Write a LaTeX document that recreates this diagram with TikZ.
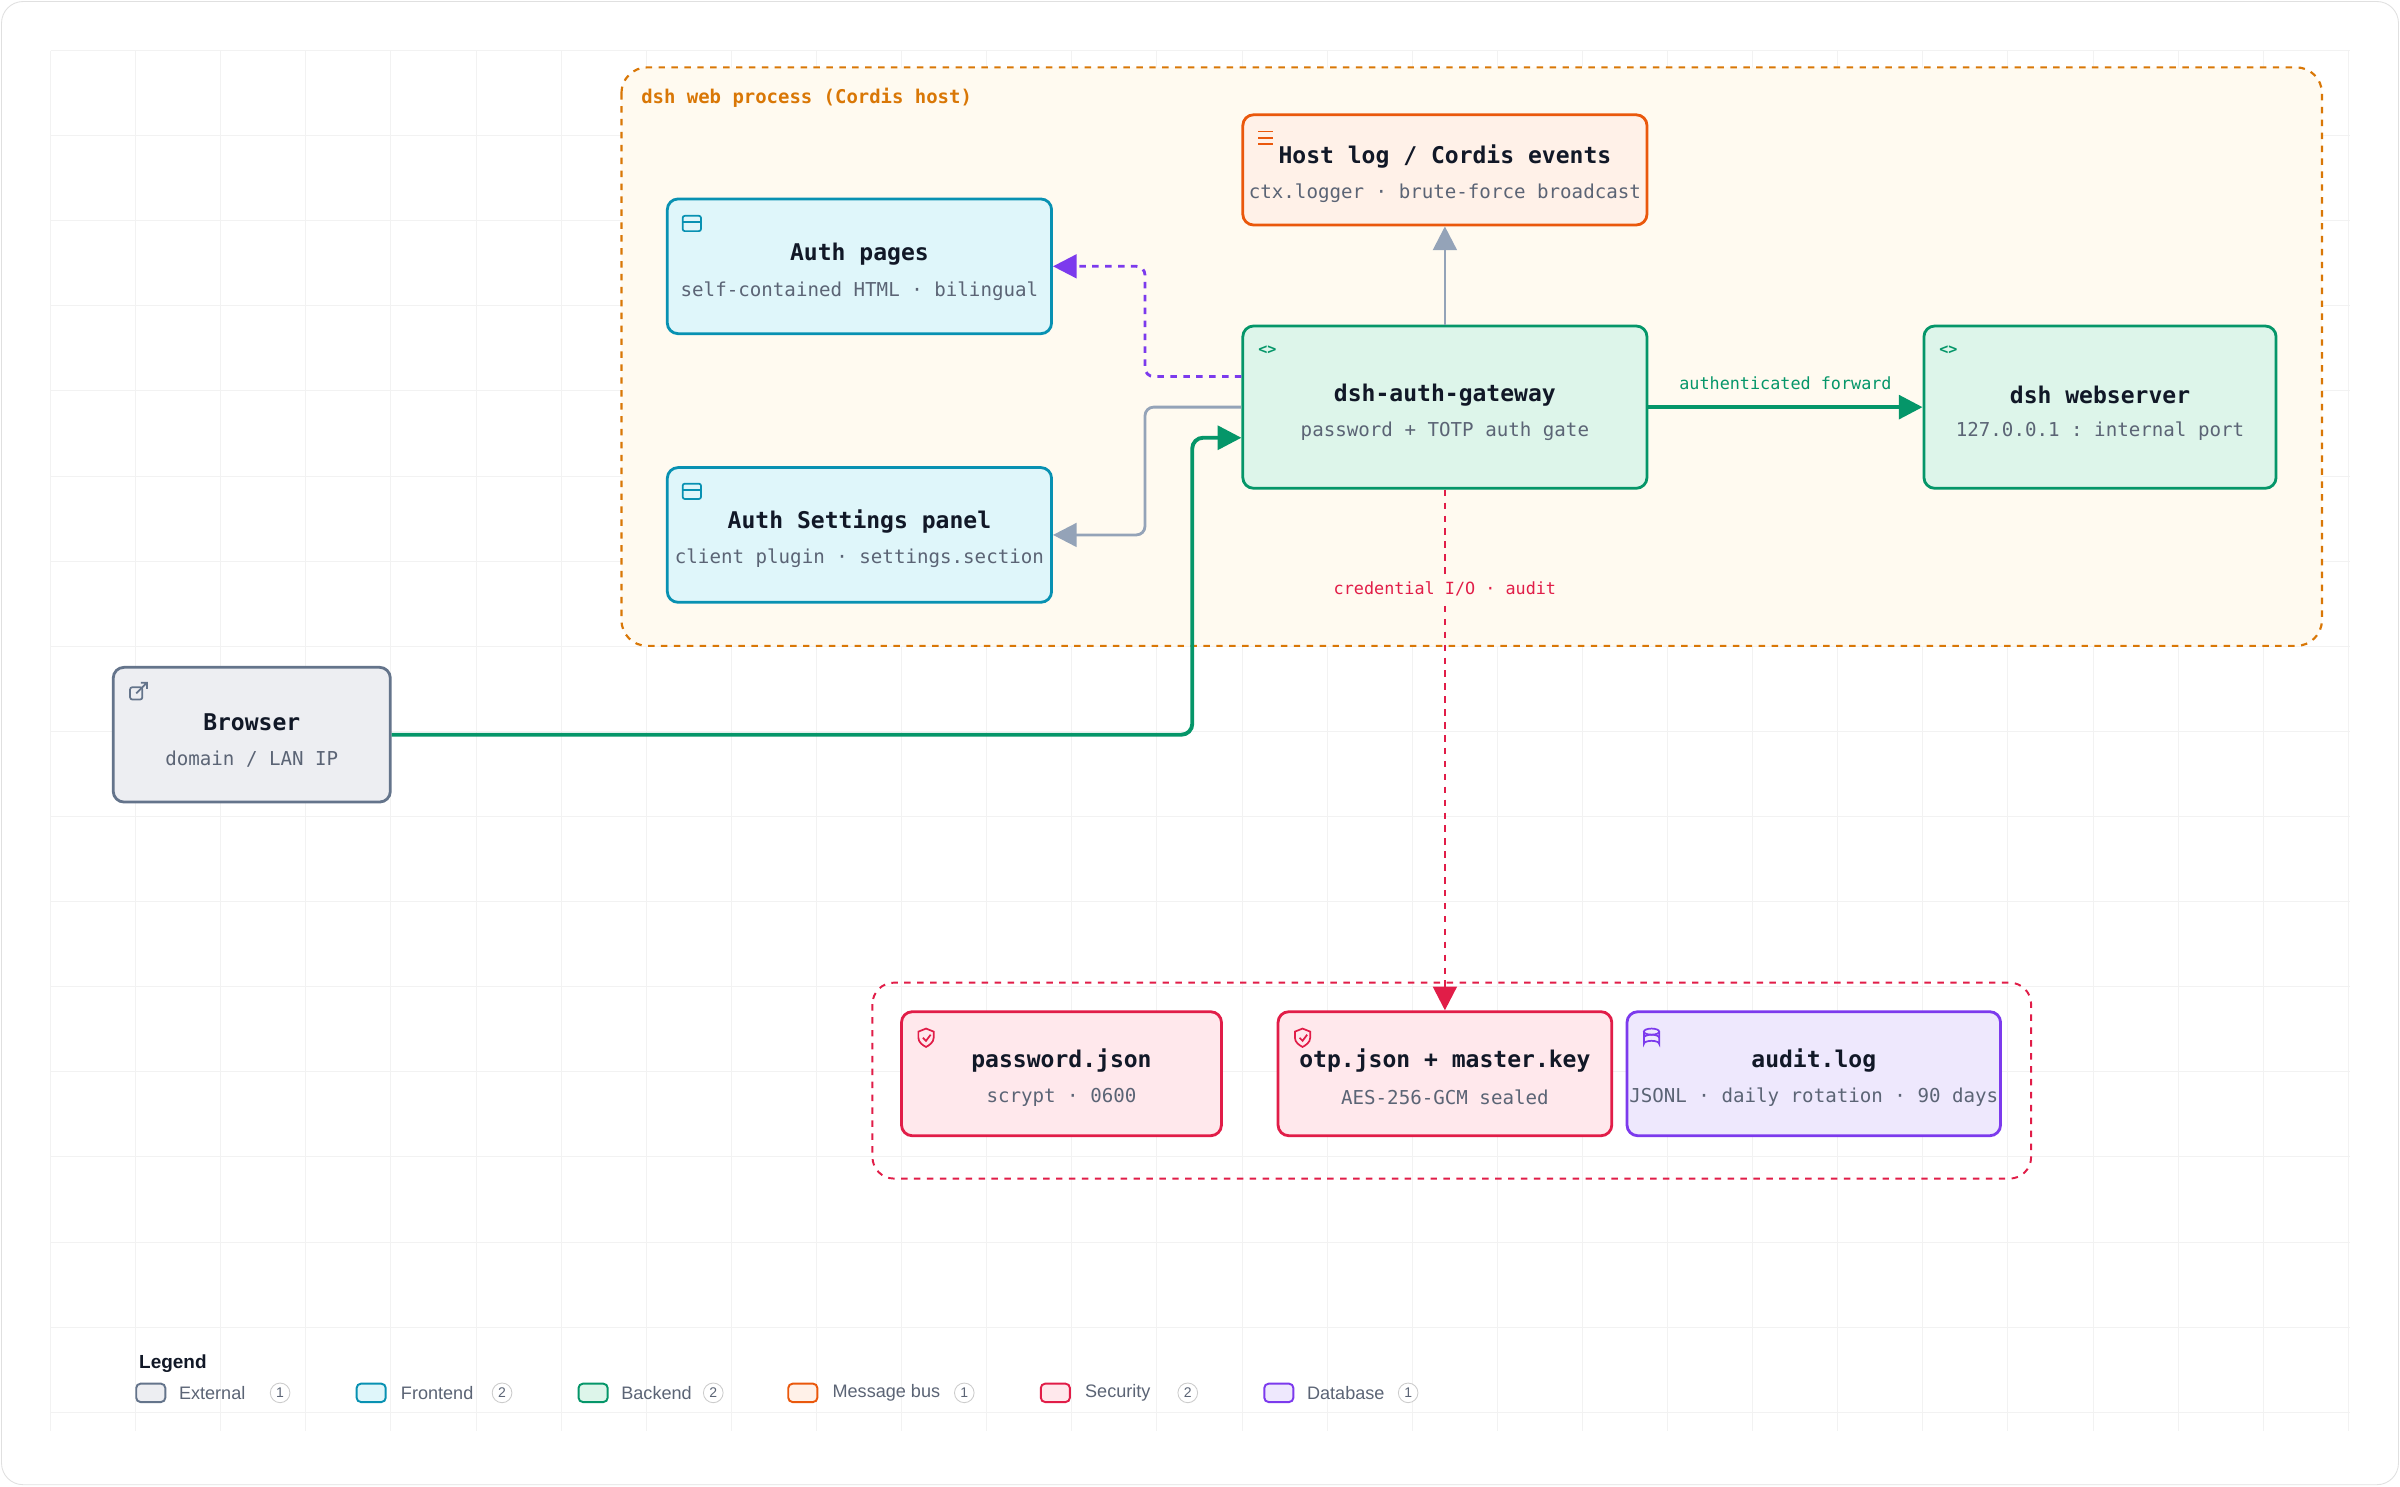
\documentclass[tikz,border=0pt]{standalone}
\usepackage{fontspec}
\setmonofont{DejaVu Sans Mono}
\setsansfont{Liberation Sans}
\usetikzlibrary{arrows.meta,positioning}
\definecolor{extS}{HTML}{64748B}\definecolor{extF}{HTML}{EDEEF2}
\definecolor{feS}{HTML}{0891B2}\definecolor{feF}{HTML}{DFF6FA}
\definecolor{beS}{HTML}{059669}\definecolor{beF}{HTML}{DDF5EA}
\definecolor{msgS}{HTML}{EA580C}\definecolor{msgF}{HTML}{FFF1E8}
\definecolor{secS}{HTML}{E11D48}\definecolor{secF}{HTML}{FFE8EC}
\definecolor{dbS}{HTML}{7C3AED}\definecolor{dbF}{HTML}{EEE8FD}
\definecolor{hostS}{HTML}{D97706}\definecolor{hostF}{HTML}{FFFAF0}
\definecolor{subT}{HTML}{5B6475}\definecolor{titT}{HTML}{111827}
\definecolor{wire}{HTML}{94A3B8}
\tikzset{
  card/.style={draw, line width=1.3pt, rounded corners=5pt, inner sep=0pt},
  ttl/.style={font=\ttfamily\bfseries\fontsize{10.7}{12}\selectfont, text=titT},
  sub/.style={font=\ttfamily\fontsize{8.9}{10}\selectfont, text=subT},
  elabel/.style={font=\ttfamily\fontsize{7.8}{9}\selectfont},
  leg/.style={font=\sffamily\fontsize{8.4}{10}\selectfont, text=subT, anchor=west},
  cnt/.style={circle, draw=black!20, fill=white, inner sep=1.2pt, font=\sffamily\fontsize{6.5}{7}\selectfont, text=subT},
  tip/.style={-{Triangle[length=11pt,width=11pt]}}
}
\begin{document}
\begin{tikzpicture}[x=0.025cm, y=-0.025cm]
\useasboundingbox (0,0) rectangle (1568,971);
% frame and grid
\draw[black!12, fill=white, rounded corners=10pt] (1,1) rectangle (1567,970);
\foreach \i in {0,...,27} {
  \draw[black!5] (33+55.6*\i,33) -- (33+55.6*\i,935);
}
\foreach \j in {0,...,16} {
  \draw[black!5] (33,33+55.6*\j) -- (1535,33+55.6*\j);
}

% host process container
\draw[hostS, fill=hostF, dashed, line width=1pt, rounded corners=12pt] (406,44) rectangle (1517,422);
\node[anchor=west, text=hostS, font=\ttfamily\bfseries\fontsize{8.8}{10}\selectfont] at (414,64) {dsh web process (Cordis host)};

% security group
\draw[secS, dashed, line width=0.9pt, rounded corners=10pt] (570,642) rectangle (1327,770);

% cards
\node[card, draw=msgS, fill=msgF, minimum width=6.6cm, minimum height=1.8cm] (log) at (944,111) {};
\node[ttl] at (944,102) {Host log / Cordis events};
\node[sub] at (944,126) {ctx.logger · brute-force broadcast};

\node[card, draw=feS, fill=feF, minimum width=6.275cm, minimum height=2.2cm] (pages) at (561.5,174) {};
\node[ttl] at (561.5,166) {Auth pages};
\node[sub] at (561.5,190) {self-contained HTML · bilingual};

\node[card, draw=feS, fill=feF, minimum width=6.275cm, minimum height=2.2cm] (panel) at (561.5,349.5) {};
\node[ttl] at (561.5,341) {Auth Settings panel};
\node[sub] at (561.5,365) {client plugin · settings.section};

\node[card, draw=beS, fill=beF, minimum width=6.6cm, minimum height=2.65cm] (gw) at (944,266) {};
\node[ttl] at (944,258) {dsh-auth-gateway};
\node[sub] at (944,282) {password + TOTP auth gate};

\node[card, draw=beS, fill=beF, minimum width=5.75cm, minimum height=2.65cm] (web) at (1372,266) {};
\node[ttl] at (1372,258) {dsh webserver};
\node[sub] at (1372,282) {127.0.0.1 : internal port};

\node[card, draw=extS, fill=extF, minimum width=4.525cm, minimum height=2.2cm] (browser) at (164.5,480) {};
\node[ttl] at (164.5,472) {Browser};
\node[sub] at (164.5,496) {domain / LAN IP};

\node[card, draw=secS, fill=secF, minimum width=5.225cm, minimum height=2.025cm] (pwd) at (693.5,701.5) {};
\node[ttl] at (693.5,693) {password.json};
\node[sub] at (693.5,717) {scrypt · 0600};

\node[card, draw=secS, fill=secF, minimum width=5.45cm, minimum height=2.025cm] (otp) at (944,701.5) {};
\node[ttl] at (944,693) {otp.json + master.key};
\node[sub] at (944,717) {AES-256-GCM sealed};

\node[card, draw=dbS, fill=dbF, minimum width=6.1cm, minimum height=2.025cm] (audit) at (1185,701.5) {};
\node[ttl] at (1185,693) {audit.log};
\node[sub] at (1185,717) {JSONL · daily rotation · 90 days};

% icons
\draw[msgS, line width=0.8pt] (822,86) -- (832,86) (822,90) -- (832,90) (822,94) -- (832,94);
\foreach \y in {146,321} {
  \draw[feS, line width=0.8pt, rounded corners=1pt] (446,\y-5) rectangle (458,\y+5);
  \draw[feS, line width=0.8pt] (446,\y-1) -- (458,\y-1);
}
\node[text=beS, font=\ttfamily\bfseries\fontsize{7}{8}\selectfont] at (828,229) {<>};
\node[text=beS, font=\ttfamily\bfseries\fontsize{7}{8}\selectfont] at (1273,229) {<>};
\draw[extS, line width=0.8pt, rounded corners=1pt] (85,449) rectangle (93,457);
\draw[extS, line width=0.8pt] (89,453) -- (96,446) (92,446) -- (96,446) -- (96,450);
\foreach \x in {605,851} {
  \draw[secS, line width=0.8pt] (\x,672) -- (\x+5,674) -- (\x+5,678) .. controls (\x+5,681) and (\x+2,683) .. (\x,684)
    .. controls (\x-2,683) and (\x-5,681) .. (\x-5,678) -- (\x-5,674) -- cycle;
  \draw[secS, line width=0.8pt] (\x-2,678) -- (\x,680) -- (\x+3,676);
}
\draw[dbS, line width=0.8pt] (1079,674) ellipse (5 and 2);
\draw[dbS, line width=0.8pt] (1074,674) -- (1074,682) arc (180:360:5 and 2) -- (1084,674);
\draw[dbS, line width=0.8pt] (1074,678) arc (180:360:5 and 2);

% connectors
\draw[wire, line width=1.3pt, tip] (gw.north) -- (log.south);
\draw[dbS, line width=1.3pt, dashed, tip, rounded corners=4pt]
  ([yshift=0.5cm]gw.west) -- ++(-63,0) |- (pages.east);
\draw[wire, line width=1.3pt, tip, rounded corners=4pt]
  (gw.west) -- ++(-63,0) |- (panel.east);
\draw[beS, line width=1.8pt, tip, rounded corners=5pt]
  (browser.east) -- ++(523,0) |- ([yshift=-0.5cm]gw.west);
\draw[beS, line width=1.8pt, tip] (gw.east) -- (web.west)
  node[midway, above=4pt, elabel, text=beS] {authenticated forward};
\draw[secS, line width=1.3pt, dashed, tip] (gw.south) -- (otp.north)
  node[pos=0.19, fill=hostF, inner sep=2pt, elabel, text=secS] {credential I/O · audit};

% legend
\node[anchor=west, font=\sffamily\bfseries\fontsize{8.8}{10}\selectfont, text=titT] at (86,891) {Legend};
\foreach \sx/\tx/\cx/\s/\f/\name/\n in {
  89/112/183/extS/extF/External/1, 233/257/328/feS/feF/Frontend/2,
  378/401/466/beS/beF/Backend/2, 515/539/630/msgS/msgF/Message bus/1,
  680/704/776/secS/secF/Security/2, 826/849/920/dbS/dbF/Database/1} {
  \draw[\s, fill=\f, line width=0.9pt, rounded corners=2pt] (\sx,904) rectangle (\sx+19,916);
  \node[leg] at (\tx,910) {\name};
  \node[cnt] at (\cx,910) {\n};
}
\end{tikzpicture}
\end{document}
